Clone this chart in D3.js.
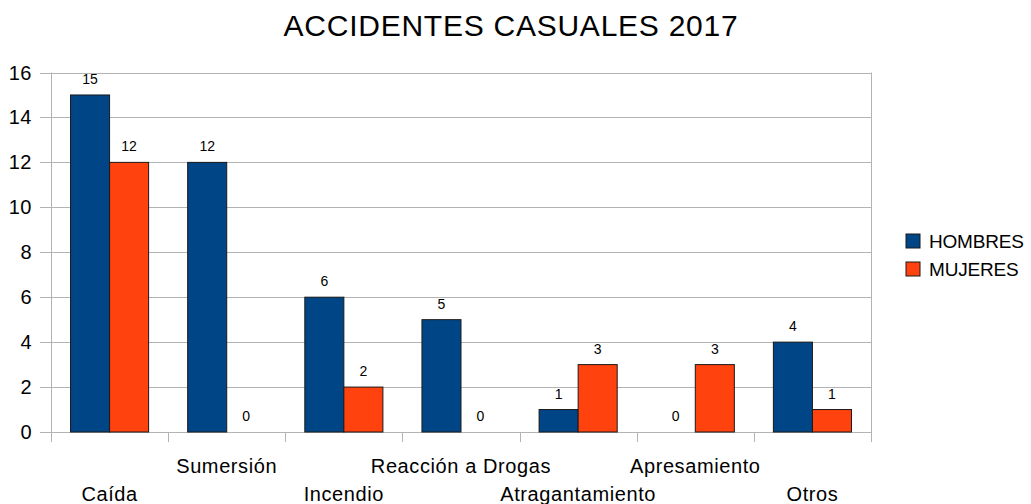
<!DOCTYPE html>
<html>
<head>
<meta charset="utf-8">
<script src="https://cdn.jsdelivr.net/npm/d3@7/dist/d3.min.js"></script>
<style>
body { margin: 0; background: #fff; }
text { font-family: "Liberation Sans", Arial, sans-serif; fill: #000; }
</style>
</head>
<body>
<svg id="chart" width="1031" height="504"></svg>
<script>
var categorias = ["Caída", "Sumersión", "Incendio", "Reacción a Drogas", "Atragantamiento", "Apresamiento", "Otros"];
var series = ["HOMBRES", "MUJERES"];
var hombres = [15, 12, 6, 5, 1, 0, 4];
var mujeres = [12, 0, 2, 0, 3, 3, 1];
var yTicks = [0, 2, 4, 6, 8, 10, 12, 14, 16];
var colores = ["#004586", "#ff420e"];

var data = categorias.map(function(c, i) {
 return {cat: c, vals: [{s: series[0], v: hombres[i]}, {s: series[1], v: mujeres[i]}]};
});

var svg = d3.select("#chart");
var pLeft = 51, pRight = 871, pTop = 72.5, pBottom = 432;

var x0 = d3.scaleBand().domain(categorias).range([pLeft, pRight]).padding(0);
var x1 = d3.scaleBand().domain(series).range([x0.bandwidth() / 6, x0.bandwidth() * 5 / 6]).padding(0);
var y = d3.scaleLinear().domain([0, 16]).range([pBottom, pTop]);

// grid
svg.append("g").selectAll("line").data(yTicks).enter().append("line")
 .attr("x1", pLeft - 11).attr("x2", pRight)
 .attr("y1", function(d) { return Math.round(y(d)) + 0.5; })
 .attr("y2", function(d) { return Math.round(y(d)) + 0.5; })
 .attr("stroke", "#b3b3b3").attr("stroke-width", 1);

// vertical lines + x ticks
svg.append("line").attr("x1", pLeft + 0.5).attr("x2", pLeft + 0.5).attr("y1", pTop).attr("y2", pBottom + 10)
 .attr("stroke", "#b3b3b3");
svg.append("line").attr("x1", pRight + 0.5).attr("x2", pRight + 0.5).attr("y1", pTop).attr("y2", pBottom + 10)
 .attr("stroke", "#b3b3b3");
svg.append("g").selectAll("line").data(categorias).enter().append("line")
 .attr("x1", function(d) { return Math.round(x0(d)) + 0.5; })
 .attr("x2", function(d) { return Math.round(x0(d)) + 0.5; })
 .attr("y1", pBottom).attr("y2", pBottom + 10)
 .attr("stroke", "#b3b3b3");

// y labels
svg.append("g").selectAll("text").data(yTicks).enter().append("text")
 .attr("x", 32).attr("y", function(d) { return y(d) + 7; })
 .attr("text-anchor", "end").style("font-size", "20px").style("letter-spacing", "0.5px")
 .text(function(d) { return d; });

// x labels, alternating rows
svg.append("g").selectAll("text").data(categorias).enter().append("text")
 .attr("x", function(d) { return x0(d) + x0.bandwidth() / 2; })
 .attr("y", function(d, i) { return i % 2 == 0 ? 501 : 473; })
 .attr("text-anchor", "middle").style("font-size", "20px").style("letter-spacing", "0.6px")
 .text(function(d) { return d; });

// bars
var grp = svg.append("g").selectAll("g").data(data).enter().append("g")
 .attr("transform", function(d) { return "translate(" + x0(d.cat) + ",0)"; });
grp.selectAll("rect").data(function(d) { return d.vals; }).enter().append("rect")
 .attr("x", function(d) { return x1(d.s); })
 .attr("y", function(d) { return y(d.v); })
 .attr("width", x1.bandwidth())
 .attr("height", function(d) { return pBottom - y(d.v); })
 .attr("fill", function(d, i) { return colores[i]; })
 .attr("stroke", function(d) { return d.v > 0 ? "#1a1a1a" : "none"; })
 .attr("stroke-width", 1);
grp.selectAll("text").data(function(d) { return d.vals; }).enter().append("text")
 .attr("x", function(d) { return x1(d.s) + x1.bandwidth() / 2; })
 .attr("y", function(d) { return y(d.v) - 11; })
 .attr("text-anchor", "middle").style("font-size", "14px")
 .text(function(d) { return d.v; });

// title
svg.append("text").attr("x", 511).attr("y", 36).attr("text-anchor", "middle")
 .style("font-size", "30px").style("letter-spacing", "0.75px").text("ACCIDENTES CASUALES 2017");

// legend
var leg = svg.append("g").selectAll("g").data(series).enter().append("g")
 .attr("transform", function(d, i) { return "translate(906," + (234 + i * 28) + ")"; });
leg.append("rect").attr("width", 14).attr("height", 14)
 .attr("fill", function(d, i) { return colores[i]; }).attr("stroke", "#1a1a1a");
leg.append("text").attr("x", 23).attr("y", 14).style("font-size", "19px").style("letter-spacing", "-0.2px")
 .text(function(d) { return d; });
</script>
</body>
</html>
